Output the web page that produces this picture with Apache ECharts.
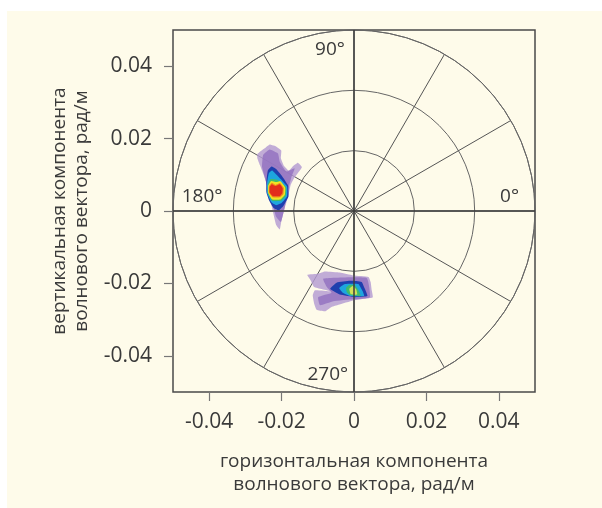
<!DOCTYPE html>
<html>
<head>
<meta charset="utf-8">
<script src="https://cdn.jsdelivr.net/npm/echarts@6/dist/echarts.min.js"></script>
<style>
  html, body { margin: 0; padding: 0; background: #ffffff; }
  #chart { width: 602px; height: 508px; }
</style>
</head>
<body>
<div id="chart"></div>
<script>
// Axis tick values (rad/m)
const tickValues = [-0.04, -0.02, 0, 0.02, 0.04];

// Polar grid: ring radii and spoke angles
const ringRadii = [0.05 / 3, 0.1 / 3, 0.05];
const spokeStep = 30;

// Direction labels: [kx, ky, text, side of the anchor]
const directionLabels = [
  [-0.0025, 0.0445, '90°', 'left'],
  [-0.0476, 0.0040, '180°', 'right'],
  [0.0456, 0.0040, '0°', 'left'],
  [-0.0016, -0.0453, '270°', 'left']
];

// Spectral energy contours, lobe in the 150°–180° sector
const lobeA_level0 = [
  [-0.0267, 0.0157], [-0.0247, 0.0173], [-0.0233, 0.0184], [-0.0219, 0.0180],
  [-0.0201, 0.0167], [-0.0202, 0.0146], [-0.0193, 0.0124], [-0.0180, 0.0111],
  [-0.0168, 0.0124], [-0.0155, 0.0133], [-0.0144, 0.0121], [-0.0164, 0.0093],
  [-0.0175, 0.0072], [-0.0182, 0.0040], [-0.0193, 0.0003], [-0.0201, -0.0030],
  [-0.0205, -0.0051], [-0.0215, -0.0039], [-0.0224, -0.0002], [-0.0233, 0.0040],
  [-0.0242, 0.0077], [-0.0251, 0.0104], [-0.0260, 0.0127], [-0.0267, 0.0146]
];
const lobeA_level1 = [
  [-0.0251, 0.0155], [-0.0233, 0.0170], [-0.0210, 0.0159], [-0.0205, 0.0136],
  [-0.0187, 0.0109], [-0.0164, 0.0118], [-0.0173, 0.0093], [-0.0182, 0.0058],
  [-0.0191, 0.0012], [-0.0202, -0.0030], [-0.0215, -0.0016], [-0.0228, 0.0030],
  [-0.0242, 0.0077], [-0.0254, 0.0122]
];
const lobeA_level2 = [
  [-0.0242, 0.0082], [-0.0238, 0.0112], [-0.0228, 0.0123], [-0.0215, 0.0116],
  [-0.0200, 0.0098], [-0.0182, 0.0070], [-0.0181, 0.0040], [-0.0195, 0.0014],
  [-0.0208, 0.0002], [-0.0222, 0.0008], [-0.0234, 0.0028], [-0.0242, 0.0052]
];
const lobeA_level3 = [
  [-0.0240, 0.0078], [-0.0235, 0.0105], [-0.0226, 0.0112], [-0.0210, 0.0096],
  [-0.0185, 0.0068], [-0.0185, 0.0040], [-0.0200, 0.0022], [-0.0215, 0.0016],
  [-0.0228, 0.0024], [-0.0240, 0.0050]
];
const lobeA_level4 = [
  [-0.0238, 0.0073], [-0.0231, 0.0088], [-0.0212, 0.0086], [-0.0188, 0.0066],
  [-0.0188, 0.0043], [-0.0202, 0.0028], [-0.0226, 0.0028], [-0.0238, 0.0050]
];
const lobeA_level5 = [
  [-0.0237, 0.0070], [-0.0229, 0.0083], [-0.0215, 0.0080], [-0.0203, 0.0082],
  [-0.0190, 0.0065], [-0.0191, 0.0045], [-0.0203, 0.0032], [-0.0226, 0.0032],
  [-0.0237, 0.0050]
];
const lobeA_level6 = [
  [-0.0235, 0.0068], [-0.0227, 0.0078], [-0.0217, 0.0072], [-0.0204, 0.0077],
  [-0.0194, 0.0064], [-0.0195, 0.0047], [-0.0204, 0.0038], [-0.0225, 0.0038],
  [-0.0235, 0.0051]
];
const lobeA_level7 = [
  [-0.0233, 0.0067], [-0.0227, 0.0074], [-0.0217, 0.0069], [-0.0205, 0.0074],
  [-0.0197, 0.0063], [-0.0198, 0.0049], [-0.0205, 0.0041], [-0.0224, 0.0041],
  [-0.0233, 0.0051]
];

// Spectral energy contours, lobe near 270°
const lobeB_level0 = [
  [-0.0129, -0.0176], [-0.0099, -0.0173], [-0.0080, -0.0167], [-0.0039, -0.0170],
  [-0.0002, -0.0178], [0.0040, -0.0182], [0.0046, -0.0196], [0.0049, -0.0219],
  [0.0052, -0.0238], [0.0035, -0.0242], [-0.0002, -0.0247], [-0.0043, -0.0259],
  [-0.0062, -0.0265], [-0.0080, -0.0277], [-0.0103, -0.0273], [-0.0110, -0.0256],
  [-0.0114, -0.0233], [-0.0108, -0.0219], [-0.0064, -0.0222], [-0.0110, -0.0210],
  [-0.0120, -0.0191]
];
const lobeB_level1 = [
  [-0.0085, -0.0187], [0.0035, -0.0185], [0.0044, -0.0238], [-0.0002, -0.0244],
  [-0.0057, -0.0249], [-0.0094, -0.0260], [-0.0099, -0.0238], [-0.0062, -0.0226],
  [-0.0075, -0.0210]
];
const lobeB_level2 = [
  [-0.0066, -0.0215], [-0.0048, -0.0198], [-0.0011, -0.0193], [0.0021, -0.0196],
  [0.0030, -0.0215], [0.0037, -0.0235], [0.0003, -0.0238], [-0.0039, -0.0231]
];
const lobeB_level3 = [
  [-0.0041, -0.0213], [-0.0025, -0.0202], [0.0012, -0.0202], [0.0024, -0.0222],
  [0.0028, -0.0235], [-0.0011, -0.0235], [-0.0031, -0.0226]
];
const lobeB_level4 = [
  [-0.0022, -0.0213], [-0.0013, -0.0204], [0.0003, -0.0205], [0.0015, -0.0224],
  [0.0018, -0.0235], [-0.0011, -0.0233], [-0.0020, -0.0224]
];
const lobeB_level5 = [
  [-0.0013, -0.0215], [-0.0004, -0.0207], [0.0006, -0.0216], [0.0009, -0.0231],
  [-0.0009, -0.0230]
];

// Contour fill colours from low to high energy
const levelColors = ['#b39ad2', '#9272bf', '#1f3fae', '#1ea5de', '#3fbb6c', '#f0e224', '#f08a1e', '#e22c1c'];
const lobeBPeakColor = '#d2e05a';

const contours = [
  { pts: lobeA_level0, level: 0 }, { pts: lobeA_level1, level: 1 },
  { pts: lobeA_level2, level: 2 }, { pts: lobeA_level3, level: 3 },
  { pts: lobeA_level4, level: 4 }, { pts: lobeA_level5, level: 5 },
  { pts: lobeA_level6, level: 6 }, { pts: lobeA_level7, level: 7 },
  { pts: lobeB_level0, level: 0 }, { pts: lobeB_level1, level: 1 },
  { pts: lobeB_level2, level: 2 }, { pts: lobeB_level3, level: 3 },
  { pts: lobeB_level4, level: 4 }, { pts: lobeB_level5, level: 5, color: lobeBPeakColor }
];

const textColor = '#3a3a3a';
const fontFamily = '"Open Sans", "Noto Sans", sans-serif';
const cream = '#fefbea';

const chart = echarts.init(document.getElementById('chart'), null, { renderer: 'canvas' });

const gridLeft = 173, gridTop = 30, gridSize = 362;
const tickFormatter = v => (Math.abs(v) < 1e-9 ? '0' : String(+v.toFixed(2)));

chart.setOption({
  backgroundColor: '#ffffff',
  animation: false,
  graphic: [{
    type: 'rect', z: -10, silent: true,
    shape: { x: 7, y: 11, width: 602, height: 508 },
    style: { fill: cream }
  }],
  grid: {
    left: gridLeft, top: gridTop, width: gridSize, height: gridSize,
    show: true, backgroundColor: cream, borderColor: '#4a4a4a', borderWidth: 1.5
  },
  xAxis: {
    type: 'value', min: -0.05, max: 0.05,
    name: 'горизонтальная компонента\nволнового вектора, рад/м',
    nameLocation: 'middle', nameGap: 58,
    nameTextStyle: { fontSize: 19, color: textColor, fontFamily: fontFamily, lineHeight: 23, verticalAlign: 'top' },
    axisLine: { show: false, onZero: false },
    axisTick: { show: true, length: 9, lineStyle: { color: '#777', width: 1.2 }, customValues: tickValues },
    axisLabel: { fontSize: 21, color: textColor, fontFamily: fontFamily, margin: 20, customValues: tickValues,
      formatter: tickFormatter },
    splitLine: { show: false }
  },
  yAxis: {
    type: 'value', min: -0.05, max: 0.05,
    name: 'вертикальная компонента\nволнового вектора, рад/м',
    nameLocation: 'middle', nameGap: 78,
    nameTextStyle: { fontSize: 19, color: textColor, fontFamily: fontFamily, lineHeight: 22 },
    axisLine: { show: false, onZero: false },
    axisTick: { show: true, length: 9, lineStyle: { color: '#777', width: 1.2 }, customValues: tickValues },
    axisLabel: { fontSize: 21, color: textColor, fontFamily: fontFamily, margin: 21, customValues: tickValues,
      formatter: tickFormatter },
    splitLine: { show: false }
  },
  polar: { center: [gridLeft + gridSize / 2, gridTop + gridSize / 2], radius: gridSize / 2 },
  radiusAxis: {
    type: 'value', min: 0, max: ringRadii[ringRadii.length - 1], interval: ringRadii[0],
    axisLine: { show: false }, axisTick: { show: false }, axisLabel: { show: false },
    splitLine: { show: true, lineStyle: { color: '#666', width: 1 } },
    z: 1
  },
  angleAxis: {
    type: 'value', min: 0, max: 360, interval: spokeStep, startAngle: 0, clockwise: false,
    axisLine: { show: true, lineStyle: { color: '#666', width: 1 } },
    axisTick: { show: false }, axisLabel: { show: false },
    splitLine: { show: true, lineStyle: { color: '#555', width: 1 } },
    z: 1
  },
  series: [
    {
      type: 'custom',
      coordinateSystem: 'cartesian2d',
      z: 2,
      silent: true,
      data: contours.map((c, i) => [i]),
      encode: { x: -1, y: -1 },
      renderItem: function (params, api) {
        const c = contours[api.value(0)];
        const points = c.pts.map(p => api.coord(p));
        return {
          type: 'polygon',
          shape: { points: points, smooth: 0.12 },
          style: { fill: c.color || levelColors[c.level], opacity: c.level < 2 ? 0.82 : 1 }
        };
      }
    },
    {
      type: 'scatter',
      z: 3,
      silent: true,
      symbolSize: 0,
      itemStyle: { opacity: 1 },
      data: directionLabels.map(d => ({
        value: [d[0], d[1]],
        label: {
          show: true, formatter: d[2], position: d[3], distance: 0,
          fontSize: 19, color: textColor, fontFamily: fontFamily, opacity: 1
        }
      })),
      markLine: {
        silent: true, symbol: 'none', animation: false,
        label: { show: false },
        lineStyle: { color: '#3c3c3c', width: 1.5, type: 'solid' },
        data: [{ xAxis: 0 }, { yAxis: 0 }]
      }
    }
  ]
});
</script>
</body>
</html>
